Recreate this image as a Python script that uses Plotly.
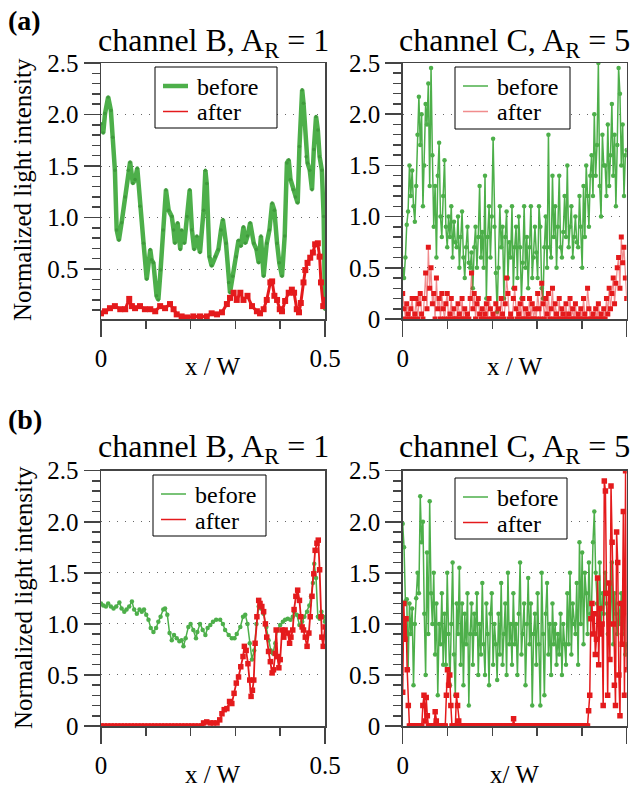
import numpy as np
import plotly.graph_objects as go

# ---------------- data ----------------
# (a) channel B, A_R = 1 : (x/W, intensity)
aB_before_pts = [(0.000,1.91),(0.005,1.82),(0.009,2.01),(0.016,2.17),(0.022,2.04),(0.026,1.78),(0.031,1.46),(0.035,0.88),(0.040,0.78),(0.046,0.95),(0.054,1.20),(0.061,1.46),(0.065,1.54),(0.071,1.33),(0.076,1.37),(0.081,1.48),(0.087,1.11),(0.095,0.75),(0.102,0.40),(0.110,0.69),(0.113,0.59),(0.117,0.56),(0.124,0.24),(0.128,0.20),(0.133,0.49),(0.139,0.88),(0.145,1.27),(0.151,1.07),(0.158,1.01),(0.162,0.88),(0.165,0.75),(0.171,0.95),(0.177,0.69),(0.180,0.88),(0.186,0.75),(0.192,1.01),(0.198,1.27),(0.203,0.88),(0.208,0.69),(0.214,0.82),(0.221,0.66),(0.229,1.07),(0.233,1.46),(0.236,1.33),(0.242,0.62),(0.247,0.53),(0.255,0.62),(0.262,0.69),(0.268,0.88),(0.272,0.98),(0.279,0.75),(0.285,0.37),(0.288,0.27),(0.294,0.43),(0.302,0.62),(0.307,0.78),(0.312,0.72),(0.318,0.91),(0.322,0.75),(0.327,0.82),(0.333,0.95),(0.341,0.75),(0.347,0.69),(0.352,0.56),(0.357,0.82),(0.363,0.43),(0.370,0.75),(0.376,0.88),(0.382,1.14),(0.387,1.07),(0.393,0.75),(0.398,0.56),(0.404,0.43),(0.410,0.82),(0.415,1.53),(0.419,1.56),(0.423,1.37),(0.429,1.27),(0.434,1.20),(0.439,1.14),(0.443,1.69),(0.449,2.24),(0.452,2.11),(0.458,1.59),(0.461,1.53),(0.466,1.46),(0.471,1.27),(0.475,1.66),(0.480,1.98),(0.484,1.85),(0.488,1.59),(0.493,1.46),(0.497,1.01),(0.500,0.11)]

aB_after_pts = [(0.000,0.07),(0.009,0.09),(0.020,0.12),(0.031,0.14),(0.043,0.11),(0.054,0.11),(0.063,0.21),(0.069,0.14),(0.076,0.12),(0.087,0.14),(0.098,0.11),(0.110,0.11),(0.121,0.09),(0.132,0.14),(0.143,0.12),(0.154,0.16),(0.162,0.11),(0.169,0.06),(0.180,0.04),(0.192,0.03),(0.206,0.04),(0.221,0.04),(0.236,0.04),(0.247,0.07),(0.259,0.06),(0.270,0.08),(0.281,0.16),(0.288,0.22),(0.296,0.27),(0.303,0.20),(0.311,0.27),(0.318,0.20),(0.327,0.24),(0.337,0.14),(0.348,0.09),(0.355,0.07),(0.363,0.11),(0.370,0.20),(0.378,0.37),(0.382,0.38),(0.387,0.24),(0.393,0.20),(0.399,0.11),(0.404,0.09),(0.411,0.19),(0.419,0.27),(0.426,0.30),(0.431,0.27),(0.437,0.11),(0.442,0.08),(0.446,0.17),(0.452,0.37),(0.456,0.49),(0.461,0.56),(0.467,0.61),(0.473,0.66),(0.478,0.74),(0.484,0.75),(0.488,0.62),(0.491,0.37),(0.496,0.14),(0.500,0.20)]

# (a) channel C, A_R = 5 : evenly sampled along x/W in [0, 0.5]
aC_before = [0.48, 0.40, 0.60, 0.92, 1.05, 1.50, 1.20, 1.45, 1.10, 0.95,
             1.30, 1.80, 2.17, 1.70, 2.00, 1.10, 1.50, 2.10, 1.90, 2.30,
             1.30, 2.45, 1.60, 0.90, 1.30, 0.60, 1.40, 1.72, 1.00, 0.80,
             1.20, 1.55, 0.90, 0.70, 1.00, 0.80, 1.10, 0.60, 0.95, 0.75,
             0.70, 1.00, 0.50, 0.80, 1.05, 0.60, 0.40, 0.70, 0.90, 0.55,
             0.50, 0.65, 0.30, 0.70, 0.90, 0.50, 0.80, 1.30, 0.60, 0.85,
             0.50, 1.40, 0.20, 0.80, 1.10, 0.60, 1.00, 1.76, 0.90, 0.45,
             0.07, 0.50, 1.10, 0.70, 0.90, 0.20, 0.80, 1.05, 0.40, 0.75,
             0.60, 1.10, 0.30, 0.70, 0.90, 0.40, 1.00, 0.70, 0.20, 0.55,
             1.10, 0.50, 0.80, 0.30, 0.70, 1.10, 0.40, 0.60, 0.90, 0.65,
             0.40, 1.10, 0.90, 0.30, 0.20, 0.70, 1.00, 0.50, 1.80, 0.70,
             0.60, 1.40, 0.80, 1.10, 0.50, 0.90, 1.40, 0.70, 0.60, 0.85,
             1.20, 0.80, 1.50, 0.70, 0.90, 1.10, 0.60, 0.80, 1.00, 0.75,
             0.70, 1.20, 0.90, 0.50, 1.30, 0.80, 1.50, 1.20, 0.90, 1.40,
             1.60, 1.20, 2.00, 1.40, 1.70, 2.50, 1.30, 1.00, 1.80, 1.50,
             1.50, 1.20, 1.90, 1.30, 1.60, 2.10, 1.40, 1.80, 1.10, 1.70,
             2.45, 2.20, 1.50, 1.90, 1.20, 1.60, 1.65]

aC_after = [0.25, 0.10, 0.00, 0.15, 0.05, 0.00, 0.10, 0.20, 0.00, 0.05,
            0.20, 0.00, 0.15, 0.25, 0.05, 0.00, 0.20, 0.45, 0.10, 0.70,
            0.30, 0.50, 0.15, 0.25, 0.00, 0.40, 0.10, 0.20, 0.00, 0.25,
            0.10, 0.00, 0.15, 0.25, 0.00, 0.05, 0.20, 0.00, 0.10, 0.00,
            0.00, 0.15, 0.05, 0.00, 0.20, 0.00, 0.10, 0.00, 0.05, 0.00,
            0.20, 0.45, 0.10, 0.25, 0.00, 0.15, 0.20, 0.05, 0.00, 0.10,
            0.00, 0.05, 0.15, 0.00, 0.20, 0.10, 0.00, 0.05, 0.00, 0.15,
            0.00, 0.10, 0.00, 0.20, 0.05, 0.00, 0.15, 0.40, 0.25, 0.00,
            0.05, 0.00, 0.20, 0.30, 0.10, 0.00, 0.05, 0.15, 0.00, 0.20,
            0.00, 0.10, 0.00, 0.05, 0.20, 0.00, 0.15, 0.00, 0.10, 0.00,
            0.25, 0.10, 0.00, 0.35, 0.15, 0.00, 0.20, 0.05, 0.25, 0.00,
            0.10, 0.30, 0.00, 0.15, 0.05, 0.00, 0.20, 0.00, 0.10, 0.05,
            0.00, 0.15, 0.00, 0.05, 0.20, 0.00, 0.10, 0.00, 0.15, 0.00,
            0.05, 0.00, 0.10, 0.00, 0.20, 0.05, 0.00, 0.30, 0.10, 0.00,
            0.00, 0.05, 0.00, 0.10, 0.00, 0.15, 0.00, 0.05, 0.00, 0.10,
            0.00, 0.20, 0.05, 0.30, 0.10, 0.25, 0.40, 0.15, 0.35, 0.50,
            0.60, 0.30, 0.80, 0.55, 0.70, 0.40, 0.20]

# (b) channel B, A_R = 1
bB_before_pts = [(0.000,1.20),(0.005,1.18),(0.011,1.17),(0.016,1.20),(0.022,1.17),(0.028,1.15),(0.034,1.17),(0.041,1.21),(0.046,1.15),(0.052,1.12),(0.057,1.14),(0.063,1.17),(0.069,1.22),(0.074,1.14),(0.080,1.10),(0.086,1.14),(0.091,1.12),(0.096,1.14),(0.101,1.09),(0.106,1.04),(0.111,0.96),(0.117,0.92),(0.123,0.96),(0.128,1.02),(0.133,1.07),(0.139,1.14),(0.143,1.15),(0.148,1.09),(0.153,0.91),(0.158,0.84),(0.163,0.89),(0.169,0.86),(0.175,0.83),(0.180,0.84),(0.184,0.78),(0.189,0.86),(0.195,0.97),(0.200,1.00),(0.206,0.94),(0.212,0.86),(0.215,0.92),(0.221,1.00),(0.227,0.94),(0.233,0.89),(0.238,0.96),(0.244,0.99),(0.250,1.02),(0.257,1.04),(0.266,1.04),(0.272,1.00),(0.277,0.94),(0.285,0.89),(0.292,0.86),(0.298,0.86),(0.303,0.90),(0.311,0.97),(0.317,1.07),(0.322,1.09),(0.327,1.00),(0.332,0.81),(0.337,0.65),(0.342,0.74),(0.347,1.00),(0.352,1.17),(0.357,1.15),(0.363,1.10),(0.369,0.97),(0.374,0.84),(0.379,0.74),(0.384,0.71),(0.389,0.81),(0.394,0.94),(0.400,0.99),(0.406,1.02),(0.411,1.04),(0.417,1.05),(0.423,1.04),(0.428,1.07),(0.431,1.12),(0.437,1.09),(0.443,0.99),(0.449,1.02),(0.454,1.07),(0.460,1.12),(0.465,1.18),(0.469,1.27),(0.473,1.40),(0.476,1.59),(0.480,1.45),(0.484,1.07),(0.488,1.05),(0.492,1.12),(0.496,1.07),(0.500,1.02)]

bB_after_zero_x = np.linspace(0.0, 0.225, 31)
bB_after_zero = [0.0] * 31
bB_after_pts = [(0.229,0.03),(0.236,0.04),(0.244,0.03),(0.251,0.03),(0.259,0.03),(0.265,0.06),(0.270,0.12),(0.275,0.16),(0.281,0.17),(0.287,0.24),(0.292,0.22),(0.297,0.32),(0.302,0.42),(0.307,0.48),(0.312,0.58),(0.317,0.68),(0.320,0.78),(0.324,0.74),(0.328,0.61),(0.332,0.45),(0.335,0.29),(0.338,0.35),(0.341,0.45),(0.344,0.81),(0.348,1.07),(0.352,1.23),(0.355,1.20),(0.359,1.17),(0.363,1.12),(0.367,1.00),(0.370,0.87),(0.374,0.73),(0.378,0.63),(0.382,0.52),(0.385,0.55),(0.389,0.71),(0.391,0.94),(0.394,0.68),(0.397,0.57),(0.400,0.65),(0.404,0.94),(0.408,0.87),(0.411,0.94),(0.417,0.91),(0.421,0.81),(0.424,0.87),(0.428,0.94),(0.431,1.14),(0.435,1.27),(0.439,1.33),(0.443,1.23),(0.446,1.07),(0.449,0.97),(0.452,0.94),(0.456,0.87),(0.460,0.78),(0.464,0.91),(0.467,1.07),(0.471,1.27),(0.475,1.49),(0.478,1.72),(0.482,1.79),(0.485,1.82),(0.488,1.53),(0.491,1.07),(0.493,0.87),(0.496,0.78),(0.500,0.97)]

# (b) channel C, A_R = 5 : evenly sampled along x/W in [0, 0.5]
bC_before = [1.98, 1.75, 1.22, 1.24, 0.55, 1.20, 0.90, 1.15, 0.40, 1.00,
             1.25, 1.50, 1.30, 2.25, 1.80, 2.00, 1.10, 0.50, 1.70, 0.90,
             2.20, 1.30, 1.00, 1.50, 0.70, 1.20, 0.30, 1.00, 0.80, 1.30,
             0.60, 1.10, 0.60, 1.50, 0.90, 0.40, 1.00, 1.60, 0.70, 0.30,
             1.20, 0.90, 1.55, 0.60, 1.20, 0.40, 1.10, 0.80, 1.30, 0.20,
             0.90, 1.20, 0.60, 1.10, 0.90, 1.30, 0.50, 1.00, 0.70, 1.40,
             0.80, 0.50, 1.20, 0.90, 0.40, 1.10, 1.30, 0.60, 1.00, 0.80,
             0.45, 1.10, 0.70, 1.40, 0.60, 0.90, 1.20, 0.50, 1.50, 0.80,
             1.00, 0.60, 1.30, 0.80, 1.00, 0.50, 1.10, 1.60, 0.70, 0.90,
             1.20, 0.40, 1.00, 1.45, 0.80, 1.20, 0.20, 0.90, 1.10, 0.60,
             1.30, 0.80, 0.20, 1.50, 0.90, 0.30, 1.10, 1.40, 0.70, 1.00,
             0.50, 1.20, 0.80, 1.00, 0.60, 0.90, 0.70, 1.10, 0.50, 1.00,
             0.80, 0.60, 1.30, 0.80, 1.50, 0.70, 1.20, 1.00, 0.90, 1.40,
             0.60, 1.80, 1.00, 1.70, 0.80, 1.50, 1.30, 0.90, 1.60, 1.10,
             1.20, 1.80, 2.10, 1.50, 1.20, 1.00, 1.60, 0.90, 1.30, 1.10,
             1.50, 1.20, 0.90, 1.40, 1.00, 1.60, 0.80, 1.30, 1.10, 0.90,
             1.20, 1.00, 1.30, 0.90, 1.10, 0.70, 0.80]

bC_after = ([0.33, 1.20, 0.85, 1.05, 0.55, 0.20] + [0.0] * 12
            + [0.20, 0.30, 0.05, 0.28, 0.10, 0.00] + [0.0] * 5
            + [0.14, 0.05, 0.00] + [0.0] * 7
            + [0.30, 0.55, 0.40, 0.50, 0.20, 0.00] + [0.0] * 3
            + [0.30, 0.20, 0.05, 0.00] + [0.0] * 47
            + [0.07] + [0.0] * 66
            + [0.15, 0.30, 1.05, 1.20, 0.90, 1.10, 0.70, 0.85, 1.45, 0.60,
               1.15, 0.90, 1.00, 0.20, 2.40, 2.30, 1.30, 0.30, 1.40, 0.65,
               2.35, 1.80, 1.00, 0.40, 0.20, 1.90, 1.60, 0.50, 0.10, 1.20,
               0.80, 2.10, 0.30, 2.50, 0.55])

y_tickvals = [0, 0.5, 1.0, 1.5, 2.0, 2.5]
y_ticktext = ["0", "0.5", "1.0", "1.5", "2.0", "2.5"]
x_tickvals = [0, 0.5]
x_ticktext = ["0", "0.5"]
series_names = ["before", "after"]
panel_titles = ["channel B, A<sub>R</sub> = 1", "channel C, A<sub>R</sub> = 5",
                "channel B, A<sub>R</sub> = 1", "channel C, A<sub>R</sub> = 5"]
x_titles = ["x / W", "x / W", "x / W", "x/ W"]
y_title = "Normalized light intensity"

# ---------------- style ----------------
GREEN = "#4daf4a"
GREEN_D = "#3f9a3c"
RED = "#e41a1c"
RED_LIGHT = "rgba(228,26,28,0.5)"
AX = "#444444"
FONT = "Liberation Serif"
W, H = 637, 790


def fx(p):
    return p / W


def fy(p):
    return 1 - p / H


LEFT = [fx(101), fx(325)]
RIGHT = [fx(402.7), fx(626.7)]
TOP = [fy(319), fy(63)]
BOT = [fy(726), fy(470.7)]


def unzip(pts):
    return [p[0] for p in pts], [p[1] for p in pts]


fig = go.Figure()


def add(x, y, ax, color, lw, msym, msize, mcolor, name):
    fig.add_trace(go.Scatter(
        x=x, y=y, mode="lines+markers", xaxis="x" + ax, yaxis="y" + ax,
        line=dict(color=color, width=lw), name=name,
        marker=dict(symbol=msym, size=msize, color=mcolor, line=dict(width=0)),
        showlegend=False, hoverinfo="skip"))


# panel (a) left
x, y = unzip(aB_before_pts)
add(x, y, "", GREEN, 4.5, "circle", 3.5, GREEN_D, series_names[0])
x, y = unzip(aB_after_pts)
add(x, y, "", RED, 3, "square", 6, RED, series_names[1])

# panel (a) right
add(np.linspace(0, 0.5, len(aC_before)), aC_before, "2", GREEN, 1.5, "circle", 4.5, GREEN, series_names[0])
add(np.linspace(0, 0.5, len(aC_after)), aC_after, "2", RED_LIGHT, 1.2, "square", 5, RED, series_names[1])

# panel (b) left
x, y = unzip(bB_before_pts)
add(x, y, "3", GREEN, 1.5, "circle", 4.5, GREEN, series_names[0])
x, y = unzip(bB_after_pts)
add(list(bB_after_zero_x) + x, bB_after_zero + y, "3", RED, 1.8, "square", 5.5, RED, series_names[1])

# panel (b) right
add(np.linspace(0, 0.5, len(bC_before)), bC_before, "4", GREEN, 1.5, "circle", 4.5, GREEN, series_names[0])
add(np.linspace(0, 0.5, len(bC_after)), bC_after, "4", RED, 1.5, "square", 5.5, RED, series_names[1])

tickfont = dict(family=FONT, size=25, color="black")


def xax(domain, anchor):
    return dict(domain=domain, anchor=anchor, range=[0, 0.5],
                tickmode="array", tickvals=x_tickvals, ticktext=x_ticktext,
                ticks="outside", ticklen=16, tickwidth=1.5, tickcolor=AX,
                minor=dict(tickmode="linear", tick0=0, dtick=0.1, ticks="outside",
                           ticklen=8, tickwidth=1.5, tickcolor=AX, showgrid=False),
                showline=True, linecolor=AX, linewidth=1.5, mirror=True,
                showgrid=False, zeroline=False, tickfont=tickfont,
                automargin=False, fixedrange=True)


def yax(domain, anchor, rng):
    return dict(domain=domain, anchor=anchor, range=rng,
                tickmode="array", tickvals=y_tickvals, ticktext=y_ticktext,
                ticks="outside", ticklen=16, tickwidth=1.5, tickcolor=AX,
                minor=dict(tickmode="linear", tick0=0, dtick=0.1, ticks="outside",
                           ticklen=8, tickwidth=1.5, tickcolor=AX, showgrid=False),
                showline=True, linecolor=AX, linewidth=1.5, mirror=True,
                showgrid=True, gridcolor="#666666", gridwidth=1, griddash="1px,7px",
                zeroline=False, tickfont=tickfont, automargin=False, fixedrange=True)


annotations = []
shapes = []

# legends drawn as boxes with line samples and text labels (pixel boxes)
legend_boxes = [(155, 67, 277, 128), (455, 67, 570, 129), (153, 475, 266, 536), (455, 478, 567, 539)]
legend_styles = [
    [(GREEN, 4.5), (RED, 1.5)],
    [(GREEN, 1.5), (RED_LIGHT, 1.5)],
    [(GREEN, 1.5), (RED, 1.5)],
    [(GREEN, 1.5), (RED, 1.5)],
]
for (x0, y0, x1, y1), styles in zip(legend_boxes, legend_styles):
    shapes.append(dict(type="rect", xref="paper", yref="paper", layer="above",
                       x0=fx(x0), x1=fx(x1), y0=fy(y1), y1=fy(y0),
                       line=dict(color="black", width=1), fillcolor="white"))
    for k, (name, (col, lw)) in enumerate(zip(series_names, styles)):
        ly = y0 + 19 + 25.5 * k
        shapes.append(dict(type="line", xref="paper", yref="paper", layer="above",
                           x0=fx(x0 + 8), x1=fx(x0 + 33), y0=fy(ly), y1=fy(ly),
                           line=dict(color=col, width=lw)))
        annotations.append(dict(text=name, x=fx(x0 + 40), y=fy(ly + 1), xref="paper", yref="paper",
                                xanchor="left", yanchor="middle", showarrow=False,
                                font=dict(family=FONT, size=24, color="black")))

title_pos = [(213, 43), (514.7, 43), (213, 448), (514.7, 448)]
for t, (px, py) in zip(panel_titles, title_pos):
    annotations.append(dict(text=t, x=fx(px), y=fy(py), xref="paper", yref="paper",
                            xanchor="center", yanchor="middle", showarrow=False,
                            font=dict(family=FONT, size=32, color="black")))
xt_pos = [(212, 366), (514, 366), (212, 774), (514, 774)]
for t, (px, py) in zip(x_titles, xt_pos):
    annotations.append(dict(text=t, x=fx(px), y=fy(py), xref="paper", yref="paper",
                            xanchor="center", yanchor="middle", showarrow=False,
                            font=dict(family=FONT, size=25, color="black")))
for py in (190, 598):
    annotations.append(dict(text=y_title, x=fx(23), y=fy(py), xref="paper", yref="paper",
                            xanchor="center", yanchor="middle", showarrow=False, textangle=-90,
                            font=dict(family=FONT, size=25, color="black")))
for t, py in (("<b>(a)</b>", 20), ("<b>(b)</b>", 420)):
    annotations.append(dict(text=t, x=fx(6), y=fy(py), xref="paper", yref="paper",
                            xanchor="left", yanchor="middle", showarrow=False,
                            font=dict(family=FONT, size=28, color="black")))

fig.update_layout(
    template="none",
    width=W, height=H,
    margin=dict(l=0, r=0, t=0, b=0),
    paper_bgcolor="white", plot_bgcolor="white",
    font=dict(family=FONT, color="black"),
    showlegend=False,
    xaxis=xax(LEFT, "y"), yaxis=yax(TOP, "x", [0.015, 2.5]),
    xaxis2=xax(RIGHT, "y2"), yaxis2=yax(TOP, "x2", [0, 2.5]),
    xaxis3=xax(LEFT, "y3"), yaxis3=yax(BOT, "x3", [0, 2.5]),
    xaxis4=xax(RIGHT, "y4"), yaxis4=yax(BOT, "x4", [0, 2.5]),
    annotations=annotations,
    shapes=shapes,
)

fig.write_html("out.html",
               config={"displayModeBar": False, "staticPlot": True},
               post_script="document.body.style.margin='0px';"
                           "document.body.style.overflow='hidden';")
